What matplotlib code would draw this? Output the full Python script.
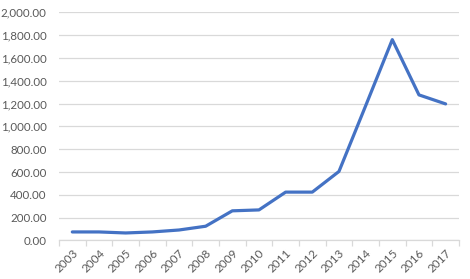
import matplotlib.pyplot as plt
from matplotlib.ticker import FuncFormatter, MultipleLocator

years = [str(y) for y in range(2003, 2018)]
values = [75, 75, 66, 75, 92, 125, 260, 268, 424, 424, 605, 1180, 1760, 1276, 1197]

LINE = '#4472C4'
GRID = '#D9D9D9'
TEXT = '#595959'

fig = plt.figure(figsize=(4.7, 2.79), dpi=100)
ax = fig.add_axes([0.1255, 0.138, 0.851, 0.818])

x = list(range(len(years)))
ax.plot(x, values, color=LINE, linewidth=2.3, solid_capstyle='round', solid_joinstyle='round', zorder=3)

ax.set_xlim(-0.5, len(years) - 0.5)
ax.set_ylim(0, 2000)
ax.yaxis.set_major_locator(MultipleLocator(200))
ax.yaxis.set_major_formatter(FuncFormatter(lambda v, _: f'{v:,.2f}'))
ax.grid(axis='y', color=GRID, linewidth=0.9)
ax.set_axisbelow(True)

ax.set_xticks(x)
ax.set_xticklabels(years, rotation=45, ha='right', rotation_mode='anchor')
ax.set_xticks([i - 0.5 for i in range(len(years) + 1)], minor=True)
ax.tick_params(axis='x', which='major', length=0, pad=5, labelsize=8.5, labelcolor=TEXT)
ax.tick_params(axis='x', which='minor', length=4, color=GRID, width=0.9)
ax.tick_params(axis='y', length=0, pad=9, labelsize=8.3, labelcolor=TEXT)

for side in ['top', 'right', 'left']:
    ax.spines[side].set_visible(False)
ax.spines['bottom'].set_color(GRID)
ax.spines['bottom'].set_linewidth(0.9)

for lbl in ax.get_xticklabels() + ax.get_yticklabels():
    lbl.set_family(['Lato', 'DejaVu Sans'])

fig.savefig('out.png', dpi=100)
